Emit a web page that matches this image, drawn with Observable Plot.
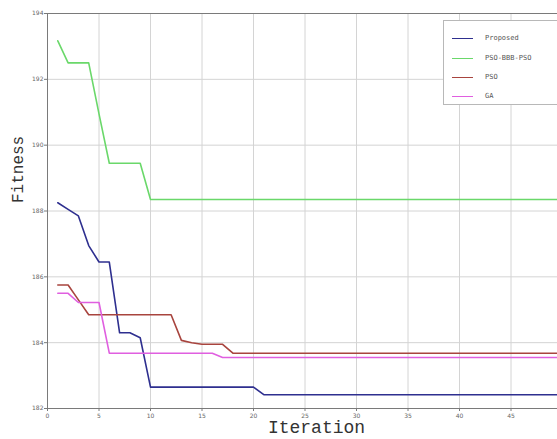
<!DOCTYPE html>
<html><head><meta charset="utf-8">
<script src="https://cdn.jsdelivr.net/npm/d3@7"></script>
<script src="https://cdn.jsdelivr.net/npm/@observablehq/plot@0.6"></script>
<style>
body{margin:0;overflow:hidden;background:#fff;}
#wrap{position:relative;width:557px;height:439px;overflow:hidden;}
#legend{position:absolute;left:443px;top:20px;width:130px;height:83px;border:1px solid #b8b8b8;background:#fff;font-family:"DejaVu Sans Mono",monospace;font-size:7px;color:#555;}
.item{position:absolute;left:8px;height:10px;display:flex;align-items:center;}
.item span.sw{display:inline-block;width:21px;height:0;border-top:1.5px solid;margin-right:12px;}
</style></head><body><div id="wrap"><div id="legend"></div></div>
<script>
const seriesNames = ["Proposed", "PSO-BBB-PSO", "PSO", "GA"];
const seriesColors = ["#2e2f8f", "#6ad86a", "#a8443e", "#e05fe0"];
const xTicks = [0, 5, 10, 15, 20, 25, 30, 35, 40, 45, 50];
const xTickLabels = [0, 5, 10, 15, 20, 25, 30, 35, 40, 45];
const yTicks = [182, 184, 186, 188, 190, 192, 194];
const iterations = [1,2,3,4,5,6,7,8,9,10,11,12,13,14,15,16,17,18,19,20,21,22,23,24,25,26,27,28,29,30,31,32,33,34,35,36,37,38,39,40,41,42,43,44,45,46,47,48,49,50];
const proposed = [188.25,188.05,187.85,186.95,186.45,186.45,184.3,184.3,184.15,182.65,
  182.65,182.65,182.65,182.65,182.65,182.65,182.65,182.65,182.65,182.65,
  182.42,182.42,182.42,182.42,182.42,182.42,182.42,182.42,182.42,182.42,
  182.42,182.42,182.42,182.42,182.42,182.42,182.42,182.42,182.42,182.42,
  182.42,182.42,182.42,182.42,182.42,182.42,182.42,182.42,182.42,182.42];
const psoBbbPso = [193.17,192.5,192.5,192.5,190.95,189.45,189.45,189.45,189.45,188.35,
  188.35,188.35,188.35,188.35,188.35,188.35,188.35,188.35,188.35,188.35,
  188.35,188.35,188.35,188.35,188.35,188.35,188.35,188.35,188.35,188.35,
  188.35,188.35,188.35,188.35,188.35,188.35,188.35,188.35,188.35,188.35,
  188.35,188.35,188.35,188.35,188.35,188.35,188.35,188.35,188.35,188.35];
const pso = [185.75,185.75,185.3,184.85,184.85,184.85,184.85,184.85,184.85,184.85,
  184.85,184.85,184.07,184.0,183.95,183.95,183.95,183.68,183.68,183.68,
  183.68,183.68,183.68,183.68,183.68,183.68,183.68,183.68,183.68,183.68,
  183.68,183.68,183.68,183.68,183.68,183.68,183.68,183.68,183.68,183.68,
  183.68,183.68,183.68,183.68,183.68,183.68,183.68,183.68,183.68,183.68];
const ga = [185.5,185.5,185.22,185.22,185.22,183.68,183.68,183.68,183.68,183.68,
  183.68,183.68,183.68,183.68,183.68,183.68,183.55,183.55,183.55,183.55,
  183.55,183.55,183.55,183.55,183.55,183.55,183.55,183.55,183.55,183.55,
  183.55,183.55,183.55,183.55,183.55,183.55,183.55,183.55,183.55,183.55,
  183.55,183.55,183.55,183.55,183.55,183.55,183.55,183.55,183.55,183.55];
const seriesValues = [proposed, psoBbbPso, pso, ga];

const rows = [];
seriesNames.forEach((name, s) => iterations.forEach((it, i) => rows.push({name, it, v: seriesValues[s][i]})));

const chart = Plot.plot({
  width: 557, height: 439,
  marginLeft: 47, marginTop: 13, marginBottom: 31, marginRight: 0,
  style: {fontFamily: "DejaVu Sans", fontSize: "6px", color: "#666", background: "#fff"},
  x: {domain: [0, 50], range: [47, 562]},
  y: {domain: [182, 194]},
  color: {domain: seriesNames, range: seriesColors},
  marks: [
    Plot.gridX(xTicks, {stroke: "#d4d4d4", strokeOpacity: 1}),
    Plot.gridY(yTicks, {stroke: "#d4d4d4", strokeOpacity: 1}),
    Plot.frame({stroke: "#7a7a7a"}),
    Plot.axisX(xTickLabels, {tickSize: 3, tickPadding: 2, label: null, stroke: "#7a7a7a", fill: "#666"}),
    Plot.axisY(yTicks, {tickSize: 3, tickPadding: 1, label: null, stroke: "#7a7a7a", fill: "#666"}),
    Plot.line(rows, {x: "it", y: "v", z: "name", stroke: "name", strokeWidth: 1.6}),
    Plot.text(["Fitness"], {text: d => d, frameAnchor: "left", dx: -30, dy: -8, rotate: -90, fontSize: 16, fontFamily: "Liberation Mono", fill: "#333"}),
    Plot.text(["Iteration"], {text: d => d, frameAnchor: "bottom", dx: 14, dy: 24, fontSize: 18, fontFamily: "Liberation Mono", fill: "#333"})
  ]
});
document.getElementById("wrap").prepend(chart);

const legend = document.getElementById("legend");
const ys = [12, 32, 51, 70];
seriesNames.forEach((name, i) => {
  const d = document.createElement("div");
  d.className = "item";
  d.style.top = ys[i] + "px";
  d.innerHTML = `<span class="sw" style="border-color:${seriesColors[i]}"></span>${name}`;
  legend.appendChild(d);
});
</script>
</body></html>
